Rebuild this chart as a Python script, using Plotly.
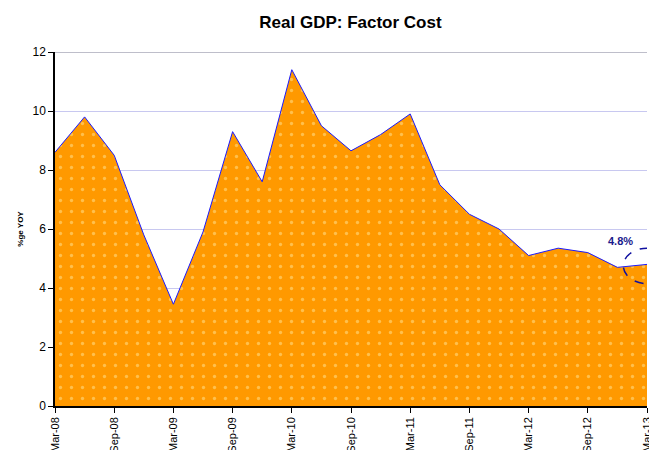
import plotly.graph_objects as go

# Quarterly real GDP growth at factor cost, % year on year
quarters = ["Mar-08", "Jun-08", "Sep-08", "Dec-08", "Mar-09", "Jun-09", "Sep-09",
            "Dec-09", "Mar-10", "Jun-10", "Sep-10", "Dec-10", "Mar-11", "Jun-11",
            "Sep-11", "Dec-11", "Mar-12", "Jun-12", "Sep-12", "Dec-12", "Mar-13"]
growth = [8.6, 9.8, 8.5, 5.8, 3.45, 5.9, 9.3, 7.6, 11.4, 9.5, 8.65, 9.2, 9.9,
          7.5, 6.5, 6.0, 5.1, 5.35, 5.2, 4.7, 4.8]
y_ticks = [0, 2, 4, 6, 8, 10, 12]

idx = list(range(len(quarters)))
label_idx = idx[::2]
label_txt = quarters[::2]

fig = go.Figure()
fig.add_trace(go.Scatter(
    x=idx, y=growth, mode="lines",
    line=dict(color="#1a1aff", width=1),
    fill="tozeroy", fillcolor="#FF9900",
    fillpattern=dict(shape=".", bgcolor="#FF9900", fgcolor="#FFE89A",
                     size=11, solidity=0.07),
    hoverinfo="skip", showlegend=False,
))

last_i = idx[-1]
last_v = growth[-1]

# Dashed ellipse highlighting the latest reading
fig.add_shape(type="circle", xref="x", yref="y",
              x0=last_i - 0.8, x1=last_i + 0.8,
              y0=last_v - 0.65, y1=last_v + 0.55,
              line=dict(color="#1010a0", width=1.5, dash="dash"))
# Top frame line
fig.add_shape(type="line", xref="paper", yref="y", x0=0, x1=1, y0=12, y1=12,
              line=dict(color="#a8a8b8", width=1.5))

fig.add_annotation(x=last_i - 0.9, y=last_v + 0.8, xref="x", yref="y",
                   text="<b>%.1f%%</b>" % last_v, showarrow=False,
                   font=dict(family="Arial, Liberation Sans", size=11, color="#1a1a8c"))

fig.update_layout(
    width=649, height=450,
    margin=dict(l=55, r=2, t=52, b=44, autoexpand=False),
    paper_bgcolor="white", plot_bgcolor="white",
    title=dict(text="<b>Real GDP: Factor Cost</b>", x=0.54, xanchor="center",
               y=0.95, yanchor="middle",
               font=dict(family="Arial, Liberation Sans", size=17, color="black")),
    font=dict(family="Arial, Liberation Sans", color="black"),
    xaxis=dict(range=[0, last_i], tickvals=label_idx, ticktext=label_txt,
               tickangle=-90, tickfont=dict(size=11), ticks="outside",
               ticklen=5, tickcolor="black", showgrid=False, automargin=False,
               ticklabeloverflow="allow",
               showline=True, linecolor="black", linewidth=1.5, zeroline=False),
    yaxis=dict(range=[0, 12], tickvals=y_ticks, tickfont=dict(size=12),
               ticks="outside", ticklen=5, tickcolor="black", automargin=False,
               showgrid=True, gridcolor="#c8c8f0", gridwidth=1,
               showline=True, linecolor="black", linewidth=1.5, zeroline=False,
               title=dict(text="<b>%ge YOY</b>", font=dict(size=8), standoff=8)),
)

fig.write_html("out.html")
